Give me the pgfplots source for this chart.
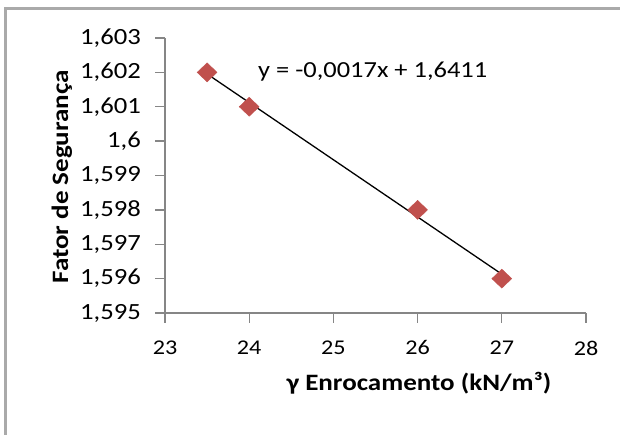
\documentclass[border=0pt]{standalone}
\usepackage{pgfplots}
\pgfplotsset{compat=1.18}
\usepackage{fontspec}
\setmainfont{Carlito}[FakeStretch=1.15]
\definecolor{mk}{RGB}{192,80,77}
\definecolor{ax}{RGB}{134,134,134}
\definecolor{brd}{RGB}{170,170,170}
\begin{document}
\fontsize{21}{25}\selectfont
\begin{tikzpicture}[x=1pt,y=1pt]
\useasboundingbox (0,0) rectangle (620,-435);
\clip (0,0) rectangle (620,-435);
\draw[brd, line width=2.2pt] (5.5,-445) -- (5.5,-8.5) -- (630,-8.5);
\begin{axis}[
  at={(165pt,-313pt)}, anchor=south west,
  scale only axis, width=421pt, height=275pt,
  xmin=23, xmax=28, ymin=1.595, ymax=1.603,
  axis lines=left, axis line style={-, ax, line width=1.3pt},
  xtick={23,24,25,26,27,28},
  xticklabels={\textnormal{23},\textnormal{24},\textnormal{25},\textnormal{26},\textnormal{27},\textnormal{28}},
  ytick={1.595,1.596,1.597,1.598,1.599,1.600,1.601,1.602,1.603},
  yticklabels={\textnormal{1,595},\textnormal{1,596},\textnormal{1,597},\textnormal{1,598},\textnormal{1,599},\textnormal{1,6},\textnormal{1,601},\textnormal{1,602},\textnormal{1,603}},
  tick align=outside, major tick length=10pt,
  tick style={ax, line width=1.3pt},
  yticklabel style={anchor=east, inner sep=0pt, xshift=-14pt, font=\fontsize{23.2}{27}\selectfont},
  xticklabel style={anchor=center, inner sep=0pt, yshift=-25pt, font=\fontsize{21}{26}\selectfont},
  xlabel={\bfseries γ Enrocamento (kN/m³)},
  ylabel={\bfseries Fator de Segurança},
  xlabel style={at={(axis description cs:0.603,-0.255)}, anchor=center, inner sep=0pt, font=\fontsize{23.5}{28}\selectfont},
  ylabel style={at={(axis description cs:-0.245,0.495)}, anchor=center, inner sep=0pt, font=\fontsize{23.5}{28}\selectfont},
  clip=false,
]
\addplot[only marks, mark=diamond*, mark size=9.5pt, mark options={xscale=1.4, draw=mk, fill=mk}]
  coordinates {(23.5,1.602) (24,1.601) (26,1.598) (27,1.596)};
\addplot[black, line width=1.3pt] coordinates {(23.5,1.601954) (27,1.596130)};
\node[anchor=west, inner sep=0pt, font=\fontsize{23}{27}\selectfont] at (axis cs:24.104,1.60201) {y = -0,0017x + 1,6411};
\end{axis}
\end{tikzpicture}
\end{document}
